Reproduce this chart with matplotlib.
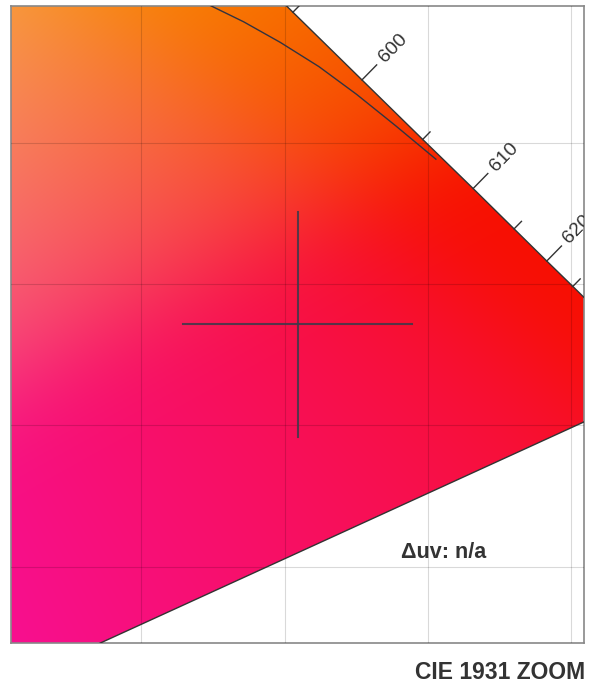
import numpy as np
import matplotlib.pyplot as plt
from matplotlib.patches import Polygon

plt.rcParams['font.family'] = ['Liberation Sans', 'DejaVu Sans']

# CIE 1931 2 deg spectral locus (wavelength nm, x, y)
locus_nm = [380, 460, 480, 490, 500, 510, 520, 540, 560, 580, 585, 590, 595,
            600, 605, 610, 615, 620, 625, 630, 635, 640, 650, 660, 680, 700]
locus_x = [0.1741, 0.1440, 0.0913, 0.0454, 0.0082, 0.0139, 0.0743, 0.2296,
           0.3731, 0.5125, 0.5448, 0.5752, 0.6029, 0.6270, 0.6482, 0.6658,
           0.6801, 0.6915, 0.7006, 0.7079, 0.7140, 0.7190, 0.7260, 0.7300,
           0.7334, 0.7347]
locus_y = [0.0050, 0.0297, 0.1327, 0.2950, 0.5384, 0.7502, 0.8338, 0.7543,
           0.6245, 0.4866, 0.4544, 0.4242, 0.3965, 0.3725, 0.3514, 0.3340,
           0.3197, 0.3083, 0.2993, 0.2920, 0.2859, 0.2809, 0.2740, 0.2700,
           0.2666, 0.2653]

major_nm = [600, 610, 620]
minor_nm = [595, 605, 615, 625, 635]

# Planckian locus, 1000 K .. 1700 K
planck_K = [1000, 1100, 1200, 1300, 1400, 1500, 1600, 1700]
planck_x = [0.6528, 0.6387, 0.6251, 0.6120, 0.5985, 0.5857, 0.5732, 0.5611]
planck_y = [0.3444, 0.3563, 0.3674, 0.3772, 0.3858, 0.3931, 0.3993, 0.4043]

# measured point (crosshair) and zoom window
point_x, point_y = 0.6045, 0.2858
arm = 0.04
half_w, half_h = 0.1, 0.1129
duv_text = "Δuv: n/a"

x0, x1 = point_x - half_w, point_x + half_w
y0, y1 = point_y - half_h, point_y + half_h

fig = plt.figure(figsize=(5.97, 6.87), dpi=100)
ax = fig.add_axes([11 / 597, 44 / 687, 573 / 597, 637 / 687])
ax.set_xlim(x0, x1)
ax.set_ylim(y0, y1)

# chromaticity colours (computed a bit wider than the view, then softened)
pad = 0.05
ex0, ex1, ey0, ey1 = x0 - pad, x1 + pad, y0 - pad, y1 + pad
xs = np.linspace(ex0, ex1, 300)
ys = np.linspace(ey0, ey1, 326)
gx, gy = np.meshgrid(xs, ys)
XYZ = np.stack([gx / gy, np.ones_like(gx), (1 - gx - gy) / gy], -1)
M = np.array([[3.2406, -1.5372, -0.4986],
              [-0.9689, 1.8758, 0.0415],
              [0.0557, -0.2040, 1.0570]])
rgb = np.clip(XYZ @ M.T, 0, None)
rgb /= rgb.max(axis=-1, keepdims=True)
rgb = np.where(rgb <= 0.0031308, 12.92 * rgb, 1.055 * rgb ** (1 / 2.4) - 0.055)

r = 45
k = np.exp(-0.5 * (np.arange(-r, r + 1) / 15.0) ** 2)
k /= k.sum()
for axis in (0, 1):
    rgb = np.apply_along_axis(
        lambda v: np.convolve(np.pad(v, r, mode='edge'), k, mode='valid'),
        axis, rgb)
rgb[..., 0] = rgb[..., 0] * 0.96 + 0.01
rgb[..., 1] = rgb[..., 1] * 0.95 + 0.06
rgb = np.clip(rgb, 0, 1)

poly = Polygon(np.column_stack([locus_x, locus_y]), closed=True,
               transform=ax.transData)
im = ax.imshow(rgb, extent=(ex0, ex1, ey0, ey1), origin='lower',
               aspect='auto', interpolation='bilinear', zorder=0)
im.set_clip_path(poly)

# locus outline + line of purples
ax.plot(locus_x + [locus_x[0]], locus_y + [locus_y[0]], color='#333333',
        lw=1.0, zorder=3)

# wavelength ticks
to_data = ax.transData.inverted()


def tick(nm, length, label):
    i = locus_nm.index(nm)
    p = ax.transData.transform((locus_x[i], locus_y[i]))
    a = ax.transData.transform((locus_x[i - 1], locus_y[i - 1]))
    b = ax.transData.transform((locus_x[i + 1], locus_y[i + 1]))
    t = (b - a) / np.hypot(*(b - a))
    n = np.array([-t[1], t[0]])
    end = to_data.transform(p + n * length)
    ax.plot([locus_x[i], end[0]], [locus_y[i], end[1]], color='#333333',
            lw=1.0, zorder=3)
    if label:
        lp = to_data.transform(p + n * 44)
        ang = np.degrees(np.arctan2(n[1], n[0]))
        ax.text(lp[0], lp[1], str(nm), rotation=ang, rotation_mode='anchor',
                ha='center', va='center', fontsize=14, color='#333333',
                clip_on=True, zorder=4)


for nm in major_nm:
    tick(nm, 21, True)
for nm in minor_nm:
    tick(nm, 10.5, False)

# Planckian locus
ax.plot(planck_x, planck_y, color='#333340', lw=1.0, zorder=3)

# crosshair
ax.plot([point_x - arm, point_x + arm], [point_y, point_y], color='#3a3a4a',
        lw=1.5, alpha=0.85, zorder=3)
ax.plot([point_x, point_x], [point_y - arm, point_y + arm], color='#3a3a4a',
        lw=1.5, alpha=0.85, zorder=3)

ax.set_xticks([0.55, 0.60, 0.65, 0.70])
ax.set_yticks([0.20, 0.25, 0.30, 0.35])
ax.tick_params(length=0, labelbottom=False, labelleft=False)
ax.set_axisbelow(False)
ax.grid(True, color='black', alpha=0.15, lw=0.8)
for s in ax.spines.values():
    s.set_color('#888888')
    s.set_linewidth(1.2)

ax.text(0.7557, 0.1413, duv_text, transform=ax.transAxes, ha='center',
        va='center', fontsize=15.5, fontweight='bold', color='#333333')
fig.text(585 / 597, 1 - 679 / 687, "CIE 1931 ZOOM", ha='right',
         va='baseline', fontsize=16.5, fontweight='bold', color='#333333')

fig.savefig('out.png', dpi=100)
